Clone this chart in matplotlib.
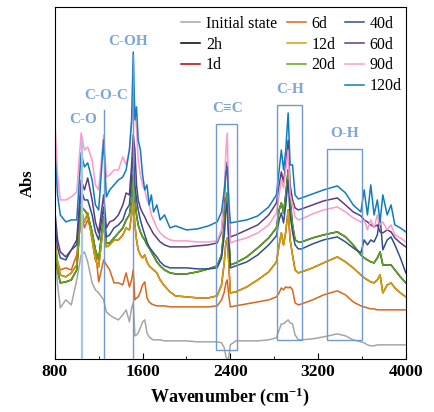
import matplotlib
matplotlib.use('Agg')
import matplotlib.pyplot as plt
from matplotlib.lines import Line2D
from matplotlib.patches import Rectangle

plt.rcParams['font.family'] = 'Liberation Serif'
plt.rcParams['mathtext.fontset'] = 'custom'
plt.rcParams['mathtext.rm'] = 'Liberation Serif:bold'
plt.rcParams['mathtext.it'] = 'Liberation Serif:bold'
plt.rcParams['mathtext.bf'] = 'Liberation Serif:bold'

# wavenumber grid, cm-1
wn = [800, 825, 850, 900, 950, 1000, 1040, 1070, 1100, 1140,
      1170, 1200, 1245, 1270, 1300, 1340, 1380, 1420, 1450, 1480,
      1500, 1515, 1530, 1545, 1560, 1580, 1600, 1620, 1640, 1660,
      1680, 1700, 1730, 1760, 1800, 1850, 1900, 2000, 2100, 2200,
      2280, 2320, 2345, 2360, 2372, 2385, 2400, 2450, 2550, 2650,
      2750, 2820, 2845, 2865, 2885, 2905, 2927, 2945, 2967, 2990,
      3020, 3050, 3150, 3250, 3375, 3450, 3520, 3590, 3620, 3650,
      3680, 3710, 3740, 3765, 3790, 3830, 3865, 3900, 3950, 4000]

# absorbance (offset, a.u.)
abs_initial = [1.07, 0.74, 0.51, 0.59, 0.54, 0.79, 1.04, 1.07, 0.97, 0.76,
               0.69, 0.66, 0.59, 0.47, 0.44, 0.41, 0.39, 0.44, 0.49, 0.37,
               0.51, 0.56, 0.23, 0.24, 0.26, 0.31, 0.37, 0.39, 0.26, 0.22,
               0.20, 0.19, 0.19, 0.19, 0.18, 0.18, 0.18, 0.18, 0.17, 0.17,
               0.17, 0.16, 0.11, 0.02, 0.00, 0.01, 0.14, 0.18, 0.18, 0.18,
               0.19, 0.21, 0.29, 0.35, 0.35, 0.37, 0.39, 0.36, 0.35, 0.24,
               0.19, 0.19, 0.20, 0.22, 0.25, 0.23, 0.19, 0.17, 0.16, 0.14,
               0.13, 0.13, 0.14, 0.14, 0.14, 0.14, 0.14, 0.14, 0.14, 0.14]

abs_6d = [1.04, 0.97, 0.89, 0.91, 0.89, 1.04, 1.47, 1.31, 1.39, 1.26,
          1.09, 0.77, 0.99, 0.94, 0.89, 0.76, 0.76, 0.74, 0.86, 0.72,
          0.79, 0.89, 0.59, 0.61, 0.62, 0.67, 0.74, 0.77, 0.61, 0.57,
          0.55, 0.54, 0.53, 0.53, 0.53, 0.52, 0.52, 0.52, 0.52, 0.52,
          0.53, 0.59, 0.67, 0.76, 0.79, 0.64, 0.52, 0.53, 0.55, 0.57,
          0.59, 0.62, 0.66, 0.71, 0.69, 0.72, 0.71, 0.72, 0.69, 0.56,
          0.54, 0.55, 0.59, 0.64, 0.68, 0.64, 0.57, 0.53, 0.52, 0.51,
          0.50, 0.50, 0.49, 0.49, 0.49, 0.49, 0.49, 0.49, 0.49, 0.49]

abs_12d = [1.19, 0.97, 0.84, 0.82, 0.86, 0.94, 1.49, 1.37, 1.46, 1.19,
           0.99, 0.92, 1.36, 1.12, 1.14, 1.19, 1.19, 1.24, 1.31, 1.29,
           1.44, 1.59, 1.34, 1.19, 1.09, 1.04, 1.01, 1.04, 0.97, 0.93,
           0.91, 0.89, 0.86, 0.79, 0.73, 0.67, 0.63, 0.62, 0.61, 0.61,
           0.63, 0.74, 0.97, 1.17, 1.21, 0.97, 0.66, 0.67, 0.72, 0.79,
           0.87, 0.97, 1.14, 1.26, 1.14, 1.27, 1.49, 1.19, 1.04, 0.89,
           0.86, 0.87, 0.91, 0.96, 1.02, 0.97, 0.91, 0.84, 0.81, 0.79,
           0.77, 0.76, 0.79, 0.84, 0.66, 0.74, 0.76, 0.71, 0.66, 0.62]

abs_20d = [1.14, 0.89, 0.76, 0.77, 0.79, 0.89, 1.52, 1.49, 1.44, 1.27,
           1.09, 0.99, 1.42, 1.16, 1.16, 1.21, 1.26, 1.31, 1.39, 1.44,
           1.59, 1.84, 1.59, 1.44, 1.34, 1.27, 1.22, 1.19, 1.14, 1.11,
           1.07, 1.03, 0.97, 0.93, 0.89, 0.86, 0.85, 0.85, 0.87, 0.90,
           0.93, 1.04, 1.34, 1.59, 1.66, 1.24, 0.94, 0.96, 1.02, 1.11,
           1.21, 1.31, 1.49, 1.56, 1.46, 1.64, 1.89, 1.59, 1.34, 1.19,
           1.17, 1.17, 1.21, 1.24, 1.27, 1.22, 1.14, 1.04, 1.01, 0.99,
           0.97, 0.96, 1.01, 1.07, 0.94, 0.94, 0.94, 0.89, 0.82, 0.76]

abs_40d = [1.34, 1.11, 1.01, 0.99, 1.09, 1.14, 1.69, 1.59, 1.59, 1.44,
           1.27, 1.19, 1.52, 1.22, 1.24, 1.31, 1.34, 1.39, 1.49, 1.54,
           1.79, 2.12, 1.74, 1.59, 1.49, 1.39, 1.31, 1.24, 1.17, 1.12,
           1.09, 1.06, 1.02, 0.97, 0.93, 0.91, 0.91, 0.91, 0.90, 0.90,
           0.91, 1.01, 1.24, 1.47, 1.56, 1.19, 0.91, 0.93, 0.97, 1.04,
           1.14, 1.23, 1.39, 1.46, 1.36, 1.54, 1.79, 1.44, 1.27, 1.14,
           1.10, 1.10, 1.15, 1.19, 1.22, 1.17, 1.11, 1.06, 1.19, 1.14,
           1.19, 1.17, 1.24, 1.42, 1.09, 1.19, 1.22, 1.14, 1.01, 0.86]

abs_60d = [1.49, 1.19, 1.07, 1.02, 1.09, 1.19, 1.79, 1.69, 1.81, 1.59,
           1.37, 1.26, 1.64, 1.31, 1.37, 1.39, 1.44, 1.54, 1.66, 1.64,
           1.94, 2.24, 2.09, 1.74, 1.59, 1.51, 1.46, 1.42, 1.37, 1.33,
           1.29, 1.25, 1.21, 1.17, 1.14, 1.12, 1.12, 1.12, 1.13, 1.14,
           1.16, 1.27, 1.59, 1.87, 1.97, 1.54, 1.22, 1.24, 1.29, 1.34,
           1.44, 1.56, 1.74, 1.87, 1.77, 1.94, 2.19, 1.74, 1.59, 1.51,
           1.49, 1.50, 1.54, 1.58, 1.61, 1.54, 1.47, 1.43, 1.39, 1.37,
           1.34, 1.32, 1.34, 1.27, 1.26, 1.29, 1.27, 1.21, 1.16, 1.12]

abs_90d = [2.41, 1.84, 1.59, 1.59, 1.62, 1.67, 2.26, 2.09, 2.12, 1.99,
           1.74, 1.69, 2.24, 1.82, 1.84, 1.89, 1.89, 2.02, 1.94, 2.09,
           2.34, 2.59, 2.52, 2.29, 1.99, 1.84, 1.74, 1.69, 1.59, 1.54,
           1.44, 1.39, 1.31, 1.26, 1.22, 1.19, 1.18, 1.18, 1.17, 1.17,
           1.18, 1.29, 1.69, 2.09, 2.26, 1.54, 1.16, 1.18, 1.21, 1.26,
           1.34, 1.46, 1.64, 1.79, 1.71, 1.89, 2.09, 1.64, 1.54, 1.42,
           1.39, 1.40, 1.45, 1.49, 1.52, 1.47, 1.41, 1.37, 1.39, 1.29,
           1.39, 1.31, 1.44, 1.34, 1.37, 1.29, 1.34, 1.24, 1.21, 1.17]

abs_120d = [2.09, 1.64, 1.44, 1.37, 1.39, 1.39, 2.06, 1.92, 1.96, 1.79,
            1.54, 1.49, 2.19, 1.62, 1.69, 1.74, 1.79, 1.82, 1.89, 2.09,
            2.39, 3.07, 2.39, 2.52, 2.19, 2.09, 1.84, 1.69, 1.74, 1.54,
            1.64, 1.47, 1.54, 1.39, 1.44, 1.31, 1.33, 1.29, 1.30, 1.33,
            1.37, 1.47, 1.69, 1.87, 1.92, 1.59, 1.36, 1.37, 1.39, 1.43,
            1.52, 1.64, 1.89, 2.09, 1.89, 2.09, 2.46, 1.94, 1.94, 1.64,
            1.60, 1.61, 1.65, 1.69, 1.73, 1.66, 1.54, 1.47, 1.69, 1.44,
            1.74, 1.44, 1.59, 1.37, 1.64, 1.44, 1.54, 1.34, 1.31, 1.27]

# 2h and 1d lie underneath the later spectra and are not visible
abs_2h = abs_20d[:]
abs_1d = abs_12d[:]

labels = ['Initial state', '2h', '1d', '6d', '12d', '20d', '40d', '60d', '90d', '120d']
series = [abs_initial, abs_2h, abs_1d, abs_6d, abs_12d, abs_20d,
          abs_40d, abs_60d, abs_90d, abs_120d]
colors = ['#a6a6a6', '#000000', '#c00000', '#d9661a', '#cfa500', '#5ea61c',
          '#2f4f8f', '#5e3c7e', '#ff99cc', '#0f7cc0']

# band annotations
line_pos = [1045, 1250, 1515]
line_top = [2.19, 2.49, 3.04]
band_names = ['C-O', 'C-O-C', 'C-OH', 'C≡C', 'C-H', 'O-H']
band_x = [1056, 1266, 1467, 2372, 2948, 3442]
band_y = [2.39, 2.63, 3.17, 2.50, 2.69, 2.25]
boxes = [(2272, 2461, 0.09, 2.35), (2823, 3052, 0.19, 2.54), (3281, 3600, 0.19, 2.10)]

fig = plt.figure(figsize=(4.35, 4.12), dpi=100)
ax = fig.add_axes([0.126, 0.129, 0.807, 0.854])

lines = []
for lab, y, c in zip(labels, series, colors):
    ln, = ax.plot(wn, y, color=c, lw=1.1, label=lab)
    lines.append(ln)

for i, (x, top) in enumerate(zip(line_pos, line_top)):
    if i == 0:
        ax.plot([x, x], [0, top], color='#a9c6e8', lw=1.6, zorder=5)
    else:
        ax.plot([x, x], [0, top], color='#6f9bd0', lw=1.0, zorder=5)

for x0, x1, y0, y1 in boxes:
    ax.add_patch(Rectangle((x0, y0), x1 - x0, y1 - y0, fill=False,
                           ec='#6f9bd0', lw=1.0, zorder=5))

for name, x, y in zip(band_names, band_x, band_y):
    ax.text(x, y, name, color='#7ea6d8', fontsize=11, fontweight='bold',
            ha='center', va='center')

blank = Line2D([], [], alpha=0)
handles = lines[0:3] + [blank] + lines[3:6] + [blank] + lines[6:10]
hlabels = labels[0:3] + [''] + labels[3:6] + [''] + labels[6:10]
ax.legend(handles, hlabels, ncol=3, loc='upper left', bbox_to_anchor=(0.36, 0.975),
          frameon=False, fontsize=11.5, borderpad=0, borderaxespad=0,
          handlelength=1.2, handletextpad=0.35, columnspacing=0.6, labelspacing=0.3)

ax.set_xlim(800, 4000)
ax.set_ylim(0, 3.52)
ax.set_xticks([800, 1600, 2400, 3200, 4000])
ax.set_xticks([1200, 2000, 2800, 3600], minor=True)
ax.set_xticklabels(['800', '1600', '2400', '3200', '4000'], fontsize=12.5, fontweight='bold')
ax.set_yticks([])
ax.tick_params(axis='x', which='both', direction='in')
ax.tick_params(axis='x', which='major', length=4)
ax.tick_params(axis='x', which='minor', length=2.5)

ax.set_xlabel('Wavenumber (cm$^{-1}$)', fontsize=13, fontweight='bold', labelpad=4)
ax.set_ylabel('Abs', fontsize=12, fontweight='bold', labelpad=14)

fig.savefig('out.png', dpi=100)
